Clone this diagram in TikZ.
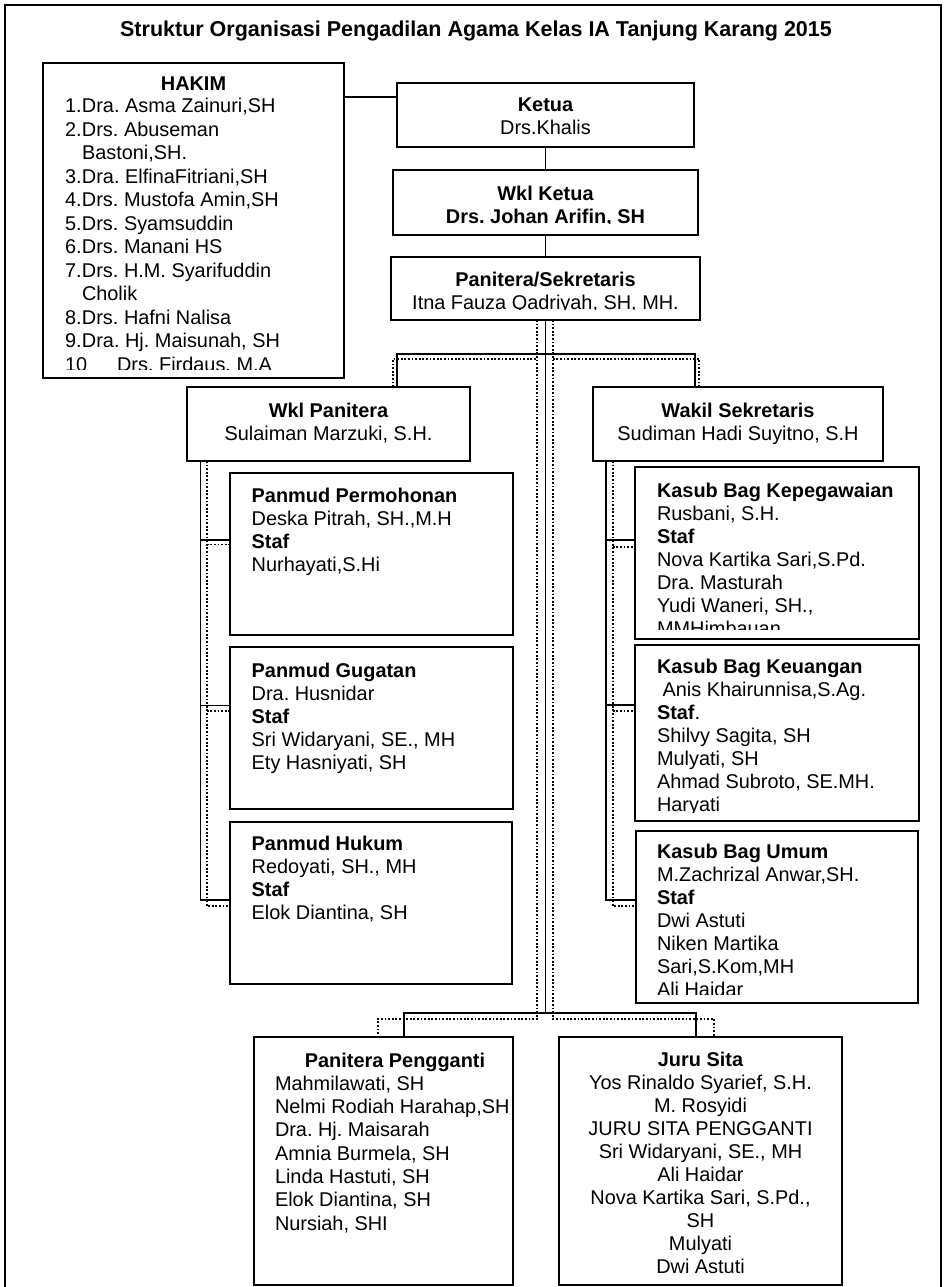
\documentclass[tikz,border=0pt]{standalone}
\usepackage{fontspec}
\setmainfont{Liberation Sans}
\frenchspacing
\newcommand{\orgbox}[5]{\node[box, minimum width={#4-#2}, minimum height={#5-#3}] (#1) at (#2,#3) {};}
\begin{document}
\begin{tikzpicture}[x=1pt,y=-1pt,
  box/.style={draw, line width=1.8pt, inner sep=0pt, outer sep=0pt, anchor=north west},
  conn/.style={line width=1.4pt},
  dotc/.style={line width=1.7pt, dash pattern=on 1.8pt off 1.8pt},
  txt/.style={inner sep=0pt, outer sep=0pt, font=\fontsize{19.9}{23}\selectfont},
  frame/.style={line width=1.5pt}]
\useasboundingbox (0,0) rectangle (947,1287);
\draw[frame] (5,1287) -- (5,5) -- (941,5) -- (941,1287);

\node[txt, anchor=base] (title) at (476,37) {\fontsize{21.5}{25}\selectfont\bfseries Struktur Organisasi Pengadilan Agama Kelas IA Tanjung Karang 2015};

% boxes
\orgbox{hakim}{43}{63}{344}{378}
\orgbox{ketua}{397}{83}{694}{147}
\orgbox{wklketua}{393}{170}{698}{235}
\orgbox{panitera}{391}{257}{700}{320}
\orgbox{wklpan}{187}{387}{470}{461}
\orgbox{wksek}{593}{387}{883}{461}
\orgbox{permohonan}{230}{473}{513}{635}
\orgbox{gugatan}{230}{647}{513}{809}
\orgbox{hukum}{230}{822}{512}{984}
\orgbox{kepeg}{635}{467}{919}{639}
\orgbox{keuangan}{635}{645}{919}{821}
\orgbox{umum}{636}{831}{918}{1003}
\orgbox{pengganti}{254}{1037}{513}{1285}
\orgbox{jurusita}{559}{1037}{842}{1285}

% texts
\node[txt, anchor=base] (hakim-t) at (193.5,91) {\bfseries HAKIM};
\begin{scope}
\clip (44,64) rectangle (343,369);
\node[txt, anchor=base west] (hakim-l) at (65,113) {\fontsize{19.9}{23.5}\selectfont\begin{tabular}[t]{@{}l@{}l@{}}
\makebox[17pt][l]{1.} & Dra. Asma Zainuri,SH\\
2. & Drs. Abuseman\\
 & Bastoni,SH.\\
3. & Dra. ElfinaFitriani,SH\\
4. & Drs. Mustofa Amin,SH\\
5. & Drs. Syamsuddin\\
6. & Drs. Manani HS\\
7. & Drs. H.M. Syarifuddin\\
 & Cholik\\
8. & Drs. Hafni Nalisa\\
9. & Dra. Hj. Maisunah, SH\\
\multicolumn{2}{@{}l@{}}{10\hspace{30pt}Drs. Firdaus, M.A}
\end{tabular}};
\end{scope}

\begin{scope}
\clip (398,84) rectangle (693,136.5);
\node[txt, anchor=base] (ketua-t) at (545.5,112) {\begin{tabular}[t]{@{}c@{}}\bfseries Ketua\\ Drs.Khalis\end{tabular}};
\end{scope}
\begin{scope}
\clip (394,171) rectangle (697,223.8);
\node[txt, anchor=base] (wklketua-t) at (545.5,200.5) {\bfseries\begin{tabular}[t]{@{}c@{}}Wkl Ketua\\ Drs. Johan Arifin, SH\end{tabular}};
\end{scope}
\begin{scope}
\clip (392,258) rectangle (699,309.2);
\node[txt, anchor=base] (panitera-t) at (545.5,286) {\begin{tabular}[t]{@{}c@{}}\bfseries Panitera/Sekretaris\\ Itna Fauza Qadriyah, SH, MH.\end{tabular}};
\end{scope}

\node[txt, anchor=base] (wklpan-t) at (328.5,417) {\begin{tabular}[t]{@{}c@{}}\bfseries Wkl Panitera\\ Sulaiman Marzuki, S.H.\end{tabular}};
\node[txt, anchor=base] (wksek-t) at (738,417) {\begin{tabular}[t]{@{}c@{}}\bfseries Wakil Sekretaris\\ Sudiman Hadi Suyitno, S.H\end{tabular}};

\node[txt, anchor=base west] (permohonan-t) at (251.7,502) {\begin{tabular}[t]{@{}l@{}}\bfseries Panmud Permohonan\\ Deska Pitrah, SH.,M.H\\ \bfseries Staf\\ Nurhayati,S.Hi\end{tabular}};
\node[txt, anchor=base west] (gugatan-t) at (251.7,677) {\begin{tabular}[t]{@{}l@{}}\bfseries Panmud Gugatan\\ Dra. Husnidar\\ \bfseries Staf\\ Sri Widaryani, SE., MH\\ Ety Hasniyati, SH\end{tabular}};
\node[txt, anchor=base west] (hukum-t) at (251.7,850.5) {\begin{tabular}[t]{@{}l@{}}\bfseries Panmud Hukum\\ Redoyati, SH., MH\\ \bfseries Staf\\ Elok Diantina, SH\end{tabular}};

\begin{scope}
\clip (636,468) rectangle (918,629);
\node[txt, anchor=base west] (kepeg-t) at (657,497) {\begin{tabular}[t]{@{}l@{}}\bfseries Kasub Bag Kepegawaian\\ Rusbani, S.H.\\ \bfseries Staf\\ Nova Kartika Sari,S.Pd.\\ Dra. Masturah\\ Yudi Waneri, SH.,\\ MMHimbauan\end{tabular}};
\end{scope}
\begin{scope}
\clip (636,646) rectangle (918,812);
\node[txt, anchor=base west] (keuangan-t) at (657,673) {\begin{tabular}[t]{@{}l@{}}\bfseries Kasub Bag Keuangan\\ \ Anis Khairunnisa,S.Ag.\\ \textbf{Staf}.\\ Shilvy Sagita, SH\\ Mulyati, SH\\ Ahmad Subroto, SE.MH.\\ Haryati\end{tabular}};
\end{scope}
\begin{scope}
\clip (637,832) rectangle (917,994);
\node[txt, anchor=base west] (umum-t) at (657,858.7) {\begin{tabular}[t]{@{}l@{}}\bfseries Kasub Bag Umum\\ M.Zachrizal Anwar,SH.\\ \bfseries Staf\\ Dwi Astuti\\ Niken Martika\\ Sari,S.Kom,MH\\ Ali Haidar\end{tabular}};
\end{scope}

\node[txt, anchor=base] (pengganti-h) at (395,1067) {\bfseries Panitera Pengganti};
\node[txt, anchor=base west] (pengganti-t) at (275,1090.3) {\fontsize{19.9}{23.3}\selectfont\begin{tabular}[t]{@{}l@{}}Mahmilawati, SH\\ Nelmi Rodiah Harahap,SH\\ Dra. Hj. Maisarah\\ Amnia Burmela, SH\\ Linda Hastuti, SH\\ Elok Diantina, SH\\ Nursiah, SHI\end{tabular}};
\node[txt, anchor=base] (jurusita-t) at (700.5,1066.3) {\begin{tabular}[t]{@{}c@{}}\bfseries Juru Sita\\ Yos Rinaldo Syarief, S.H.\\ M. Rosyidi\\ JURU SITA PENGGANTI\\ Sri Widaryani, SE., MH\\ Ali Haidar\\ Nova Kartika Sari, S.Pd.,\\ SH\\ Mulyati\\ Dwi Astuti\end{tabular}};

% connectors top
\coordinate (hk) at (0,97);
\draw[conn] (hakim.east |- hk) -- (ketua.west |- hk);
\draw[conn] (ketua.south) -- (wklketua.north);
\draw[conn] (wklketua.south) -- (panitera.north);

\coordinate (sbusL) at (397,354);
\coordinate (sbusR) at (695,354);
\coordinate (dbusL) at (392.7,359);
\coordinate (dbusR) at (699.3,359);
\coordinate (dtrL) at (537,359);
\coordinate (dtrR) at (553,359);
\coordinate (bsL) at (404,1013);
\coordinate (bsR) at (696,1013);
\coordinate (bdL) at (378,1019);
\coordinate (bdR) at (714,1019);

\draw[conn] (panitera.south) -- (panitera.south |- bsL);
\draw[conn] (wklpan.north -| sbusL) -- (sbusL) -- (sbusR) -- (wksek.north -| sbusR);
\draw[conn] (pengganti.north -| bsL) -- (bsL) -- (bsR) -- (jurusita.north -| bsR);
\draw[dotc] (wklpan.north -| dbusL) -- (dbusL) -- (dtrL);
\draw[dotc] (wksek.north -| dbusR) -- (dbusR) -- (dtrR);
\draw[dotc] (panitera.south -| dtrL) -- (dtrL |- bdL) -- (bdL) -- (pengganti.north -| bdL);
\draw[dotc] (panitera.south -| dtrR) -- (dtrR |- bdR) -- (bdR) -- (jurusita.north -| bdR);

% left column connectors
\coordinate (lsx) at (200.7,0);
\coordinate (ldx) at (206.7,0);
\coordinate (lh1) at (0,540);
\coordinate (lh2) at (0,705.7);
\coordinate (lh3) at (0,900);
\coordinate (ld1) at (0,544.5);
\coordinate (ld2) at (0,710.7);
\coordinate (ld3) at (0,906);
\draw[conn] (wklpan.south -| lsx) -- (lsx |- lh3) -- (hukum.west |- lh3);
\draw[conn] (lsx |- lh1) -- (permohonan.west |- lh1);
\draw[conn] (lsx |- lh2) -- (gugatan.west |- lh2);
\draw[dotc] (wklpan.south -| ldx) -- (ldx |- ld3) -- (hukum.west |- ld3);
\draw[dotc] (ldx |- ld1) -- (permohonan.west |- ld1);
\draw[dotc] (ldx |- ld2) -- (gugatan.west |- ld2);

% right column connectors
\coordinate (rsx) at (606,0);
\coordinate (rdx) at (612.7,0);
\coordinate (rh1) at (0,540);
\coordinate (rh2) at (0,705);
\coordinate (rh3) at (0,900);
\coordinate (rd1) at (0,546.7);
\coordinate (rd2) at (0,711);
\coordinate (rd3) at (0,906);
\draw[conn] (wksek.south -| rsx) -- (rsx |- rh3) -- (umum.west |- rh3);
\draw[conn] (rsx |- rh1) -- (kepeg.west |- rh1);
\draw[conn] (rsx |- rh2) -- (keuangan.west |- rh2);
\draw[dotc] (wksek.south -| rdx) -- (rdx |- rd3) -- (umum.west |- rd3);
\draw[dotc] (rdx |- rd1) -- (kepeg.west |- rd1);
\draw[dotc] (rdx |- rd2) -- (keuangan.west |- rd2);
\end{tikzpicture}
\end{document}
